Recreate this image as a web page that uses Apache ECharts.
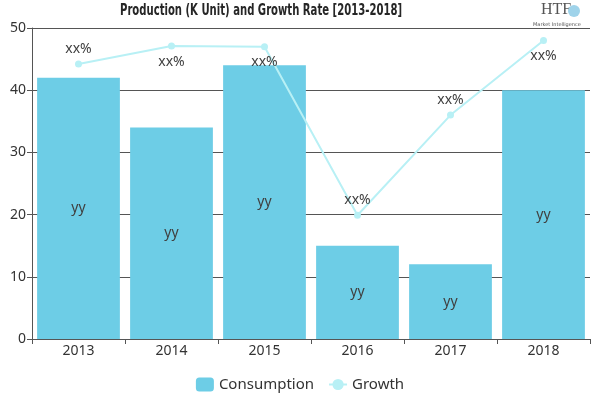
<!DOCTYPE html>
<html><head><meta charset="utf-8">
<script src="https://cdn.jsdelivr.net/npm/echarts@6/dist/echarts.min.js"></script>
<style>html,body{margin:0;padding:0;background:#fff}#c{width:600px;height:400px}</style>
</head><body><div id="c"></div>
<script>
var titleText = 'Production (K Unit) and Growth Rate [2013-2018]';
var categories = ['2013','2014','2015','2016','2017','2018'];
var consumption = [42, 34, 44, 15, 12, 40];
var growth = [44.2, 47.1, 47, 19.9, 36, 48];
var growthLabelPos = ['top','bottom','bottom','top','top','bottom'];
var yTicks = [0, 10, 20, 30, 40, 50];

var chart = echarts.init(document.getElementById('c'), null, {renderer:'canvas'});
chart.setOption({
  animation: false,
  graphic: [
    {type:'text', x: 120, y: 3, scaleX: 0.7, scaleY: 1,
      style:{text: titleText, font:'bold 16px "DejaVu Sans Condensed"', fill:'#262626', textAlign:'left', textVerticalAlign:'top'}},
    {type:'text', left: 541, top: 2, style:{text:'HTF', font:'16px "Liberation Serif"', fill:'#555'}},
    {type:'circle', shape:{cx:574, cy:11, r:6}, style:{fill:'#9fd3ea'}},
    {type:'text', left: 533, top: 22, style:{text:'Market Intelligence', font:'5px "DejaVu Sans"', fill:'#555'}}
  ],
  legend: {
    bottom: 3, left: 'center', itemGap: 14, itemWidth: 18, itemHeight: 14,
    textStyle: {fontFamily: 'Noto Sans', fontSize: 15, color: '#333'},
    data: ['Consumption', 'Growth']
  },
  grid: {left: 32, right: 10, top: 28, bottom: 61},
  xAxis: {
    type: 'category', data: categories,
    axisLine: {lineStyle: {color: '#555'}},
    axisTick: {show: true, alignWithLabel: false, lineStyle: {color: '#555'}},
    axisLabel: {color: '#333', fontSize: 14, fontFamily: 'Noto Sans', margin: 5}
  },
  yAxis: {
    type: 'value', min: 0, max: 50, interval: 10,
    axisLine: {show: true, lineStyle: {color: '#555'}},
    axisTick: {show: true, lineStyle: {color: '#555'}},
    axisLabel: {color: '#333', fontSize: 14, fontFamily: 'Noto Sans', margin: 6,
      formatter: function(v){ return yTicks.indexOf(v) >= 0 ? String(v) : ''; }},
    splitLine: {lineStyle: {color: '#555'}}
  },
  series: [
    {
      name: 'Consumption', type: 'bar', data: consumption,
      barCategoryGap: '11%',
      itemStyle: {color: '#6dcde6'},
      label: {show: true, position: 'inside', formatter: 'yy', color: '#404040', fontSize: 14, fontFamily: 'Noto Sans'}
    },
    {
      name: 'Growth', type: 'line',
      data: growth.map(function(v, i){ return {value: v, label: {position: growthLabelPos[i]}}; }),
      symbol: 'circle', symbolSize: 7,
      lineStyle: {color: '#b8f0f5', width: 2},
      itemStyle: {color: '#b8f0f5'},
      label: {show: true, formatter: 'xx%', color: '#404040', fontSize: 14, fontFamily: 'Noto Sans', distance: 5}
    }
  ]
});
</script></body></html>
